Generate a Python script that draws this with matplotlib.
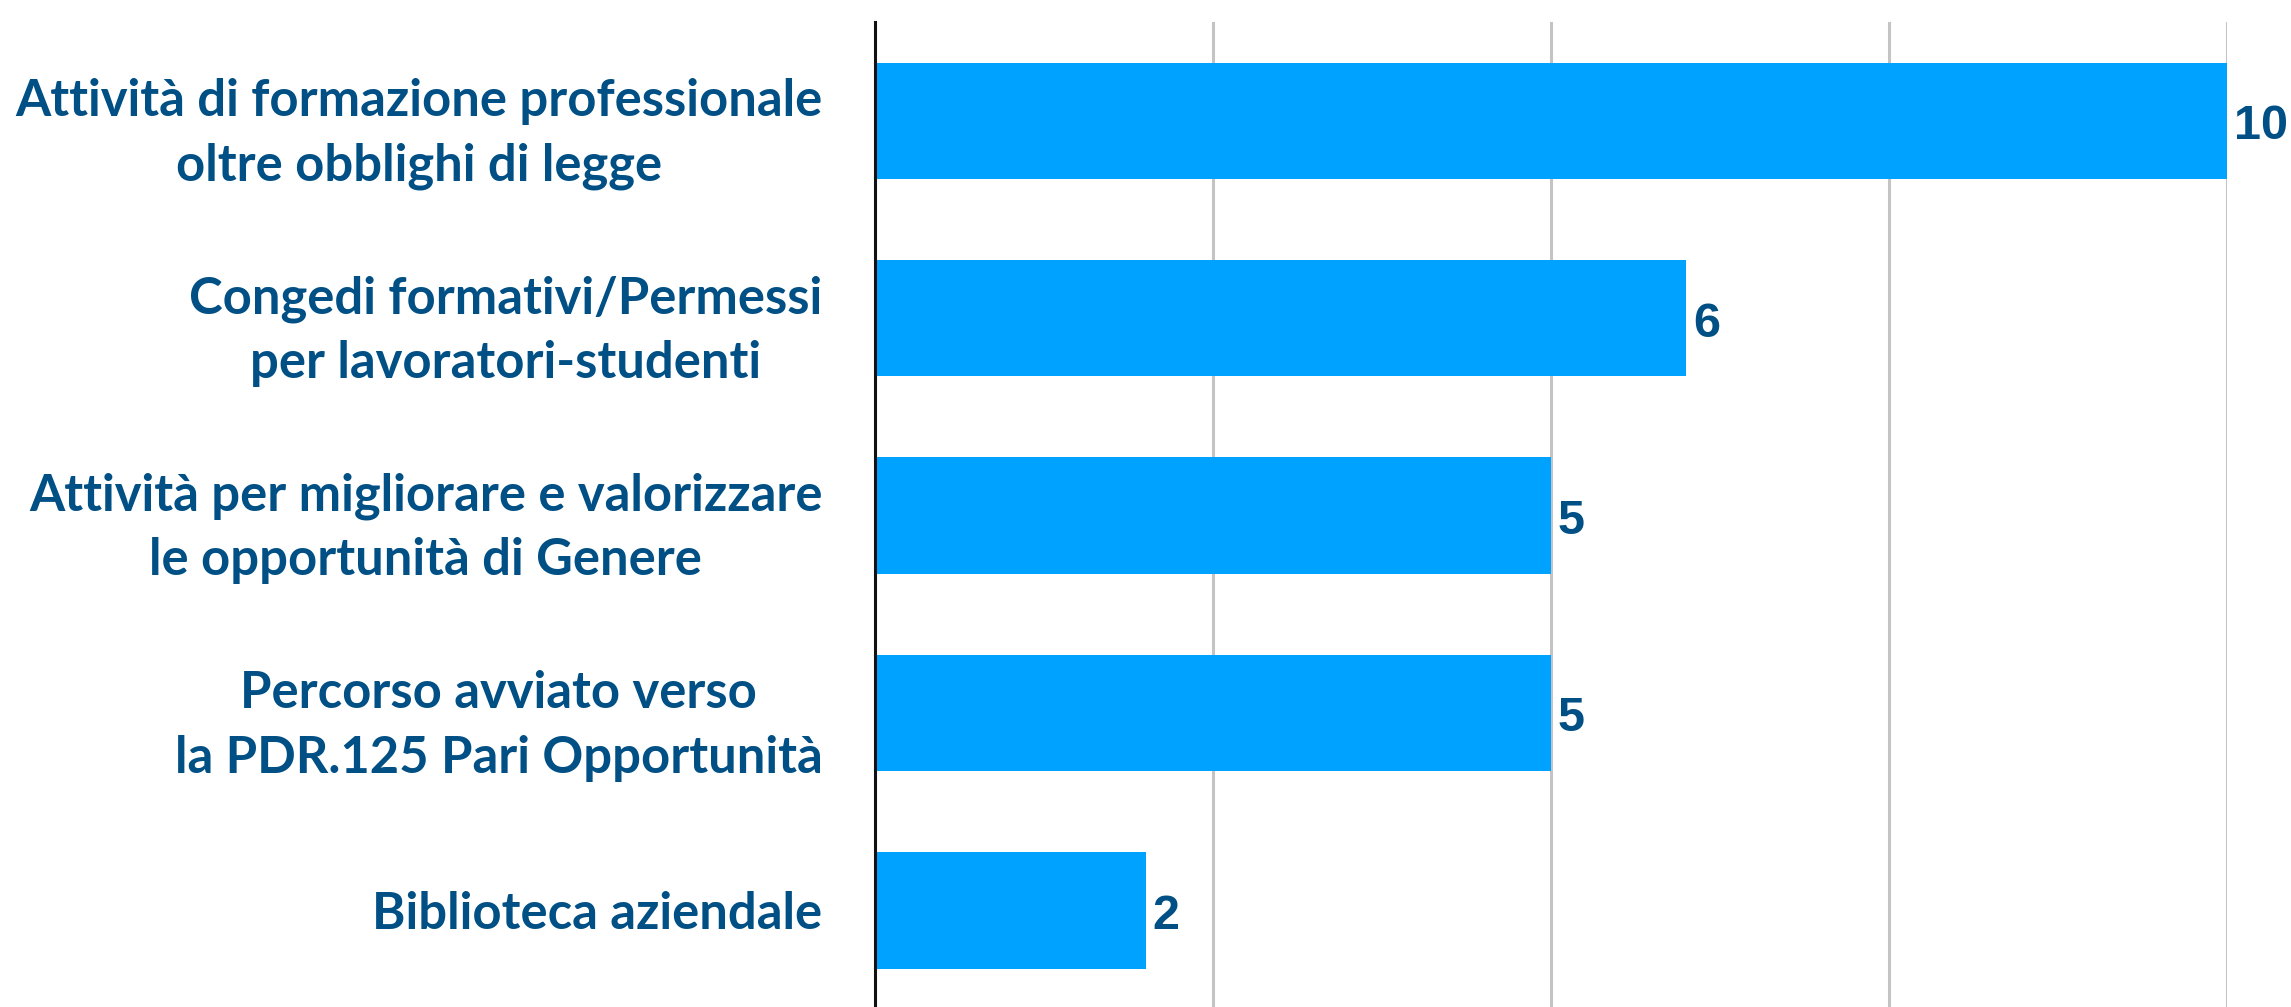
import matplotlib

matplotlib.use("Agg")
import matplotlib.pyplot as plt

categories = [
    "Attività di formazione professionale\noltre obblighi di legge",
    "Congedi formativi/Permessi\nper lavoratori-studenti",
    "Attività per migliorare e valorizzare\nle opportunità di Genere",
    "Percorso avviato verso\nla PDR.125 Pari Opportunità",
    "Biblioteca aziendale",
]
values = [10, 6, 5, 5, 2]
x_ticks = [0, 2.5, 5, 7.5, 10]

BAR_COLOR = "#00A2FF"
TEXT_COLOR = "#004F85"

fig = plt.figure(figsize=(22.91, 10.07), dpi=100)
ax = fig.add_axes([0.382, -0.002, 0.590, 0.980])

pos = list(range(len(categories)))
ax.barh(pos, values, height=0.59, color=BAR_COLOR, zorder=2)

ax.set_xlim(0, 10)
ax.set_ylim(len(categories) - 0.5, -0.5)
ax.set_xticks(x_ticks)
ax.tick_params(axis="x", length=0, labelbottom=False)
ax.xaxis.grid(True, color="#C4C4C4", linewidth=2.2, zorder=0)
ax.set_axisbelow(True)

ax.set_yticks(pos)
ax.set_yticklabels(categories, fontsize=36.5, color=TEXT_COLOR, family="Lato",
                   fontweight="bold", multialignment="center",
                   linespacing=1.45)
ax.tick_params(axis="y", length=0, pad=38)

for s in ["top", "right", "bottom"]:
    ax.spines[s].set_visible(False)
ax.spines["left"].set_linewidth(2.2)
ax.spines["left"].set_color("#111111")
ax.spines["left"].set_zorder(3)

for p, v in zip(pos, values):
    ax.text(v + 0.05, p + 0.03, str(v), va="center", ha="left", fontsize=35,
            fontweight="bold", color=TEXT_COLOR, family="Liberation Sans",
            clip_on=False)

plt.savefig("out.png", dpi=100)
